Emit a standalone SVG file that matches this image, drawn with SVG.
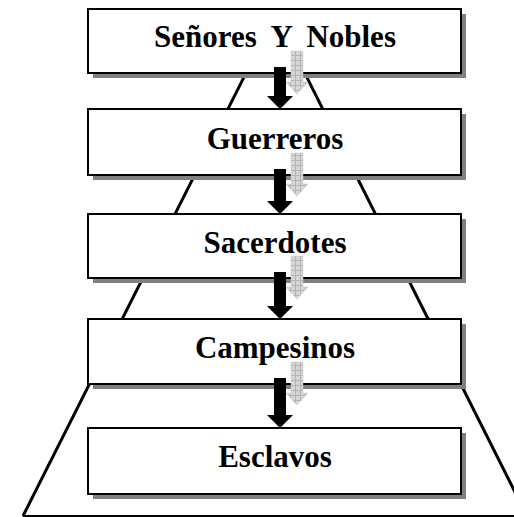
<svg xmlns="http://www.w3.org/2000/svg" width="514" height="517" viewBox="0 0 514 517">
<defs>
<style>
.box{fill:#fff;stroke:#000;stroke-width:2}
.shadow{fill:#808080}
.lbl{font-family:"Liberation Serif","Times New Roman",serif;font-weight:bold;font-size:31px;text-anchor:middle;fill:#000;word-spacing:7px}
.pyr{fill:none;stroke:#000;stroke-width:3}
.blk{fill:#000}
.gry{fill:url(#grid);stroke:#c8c8c8;stroke-width:0.5}
</style>
<pattern id="grid" width="5" height="5" patternUnits="userSpaceOnUse">
<rect width="5" height="5" fill="#d6d6d6"/>
<path d="M0,0.5H5M0.5,0V5" stroke="#b4b4b4" stroke-width="1"/>
</pattern>
</defs>
<rect width="514" height="517" fill="#fff"/>
<g id="pyramid">
<path class="pyr" d="M23,516 L275.4,14.7 L527,516"/>
<line x1="23" y1="516" x2="514" y2="516" stroke="#000" stroke-width="2"/>
</g>
<g id="senores">
<rect class="shadow" x="93" y="14" width="373" height="64"/>
<rect class="box" x="88" y="9" width="373" height="64"/>
<text class="lbl" x="275" y="47">Señores Y Nobles</text>
</g>
<g id="guerreros">
<rect class="shadow" x="93" y="114" width="373" height="66"/>
<rect class="box" x="88" y="109" width="373" height="66"/>
<text class="lbl" x="275" y="149">Guerreros</text>
</g>
<g id="sacerdotes">
<rect class="shadow" x="93" y="219" width="373" height="64"/>
<rect class="box" x="88" y="214" width="373" height="64"/>
<text class="lbl" x="275" y="253">Sacerdotes</text>
</g>
<g id="campesinos">
<rect class="shadow" x="93" y="324" width="373" height="65"/>
<rect class="box" x="88" y="319" width="373" height="65"/>
<text class="lbl" x="275" y="358">Campesinos</text>
</g>
<g id="esclavos">
<rect class="shadow" x="93" y="433" width="373" height="66"/>
<rect class="box" x="88" y="428" width="373" height="66"/>
<text class="lbl" x="275" y="467">Esclavos</text>
</g>
<g id="connectors">
<path class="gry" d="M291,51 H303 V82 H308 L297,94 L286,82 H291Z"/>
<path class="blk" d="M274,67 H286 V96 H293 L280,109 L267,96 H274Z"/>
<path class="gry" d="M291,153 H303 V184 H308 L297,196 L286,184 H291Z"/>
<path class="blk" d="M274,169 H286 V201 H293 L280,214 L267,201 H274Z"/>
<path class="gry" d="M291,256 H303 V287 H308 L297,299 L286,287 H291Z"/>
<path class="blk" d="M274,272 H286 V306 H293 L280,319 L267,306 H274Z"/>
<path class="gry" d="M291,362 H303 V393 H308 L297,405 L286,393 H291Z"/>
<path class="blk" d="M274,378 H286 V415 H293 L280,428 L267,415 H274Z"/>
</g>
</svg>
